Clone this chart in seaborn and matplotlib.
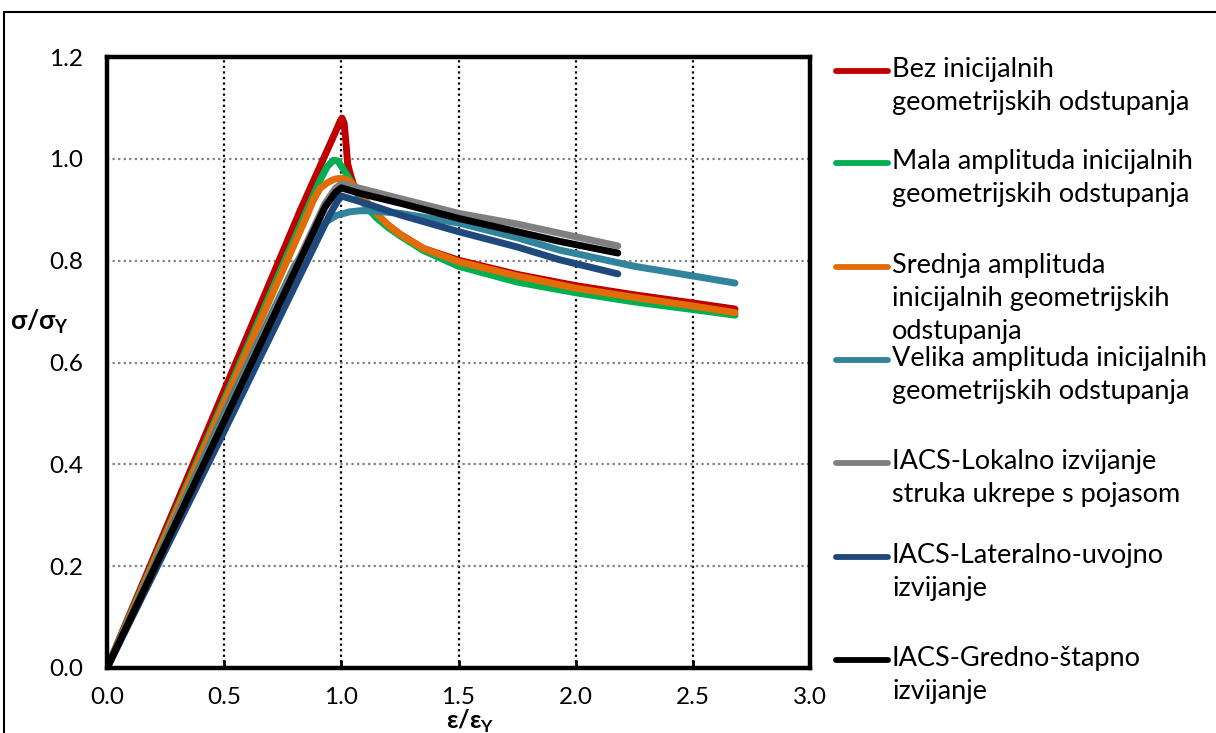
import numpy as np
import pandas as pd
import matplotlib
matplotlib.use("Agg")
import matplotlib.pyplot as plt
from matplotlib.lines import Line2D
from matplotlib.patches import Rectangle
import seaborn as sns

# ---------------- data ----------------
series_names = [
    "Bez inicijalnih\ngeometrijskih odstupanja",
    "Mala amplituda inicijalnih\ngeometrijskih odstupanja",
    "Srednja amplituda\ninicijalnih geometrijskih\nodstupanja",
    "Velika amplituda inicijalnih\ngeometrijskih odstupanja",
    "IACS-Lokalno izvijanje\nstruka ukrepe s pojasom",
    "IACS-Lateralno-uvojno\nizvijanje",
    "IACS-Gredno-štapno\nizvijanje",
]

bez_x = [0, 0.5, 0.824, 0.98, 0.995, 1.003, 1.012, 1.02, 1.027, 1.037, 1.05, 1.08, 1.12, 1.165, 1.25, 1.35, 1.5, 1.75, 2.0, 2.25, 2.5, 2.68]
bez_y = [0, 0.545, 0.898, 1.058, 1.074, 1.08, 1.07, 1.03, 0.99, 0.972, 0.952, 0.927, 0.903, 0.882, 0.852, 0.824, 0.801, 0.773, 0.751, 0.733, 0.717, 0.705]

mala_x = [0, 0.5, 0.866, 0.909, 0.94, 0.966, 0.985, 1.005, 1.037, 1.07, 1.108, 1.15, 1.2, 1.25, 1.35, 1.5, 1.75, 2.0, 2.25, 2.5, 2.68]
mala_y = [0, 0.527, 0.913, 0.958, 0.985, 0.997, 0.996, 0.982, 0.959, 0.93, 0.905, 0.884, 0.865, 0.849, 0.82, 0.789, 0.758, 0.737, 0.719, 0.704, 0.693]

srednja_x = [0, 0.5, 0.852, 0.88, 0.909, 0.94, 0.97, 1.0, 1.03, 1.06, 1.1, 1.15, 1.2, 1.25, 1.35, 1.5, 1.75, 2.0, 2.25, 2.5, 2.68]
srednja_y = [0, 0.52, 0.887, 0.918, 0.942, 0.953, 0.96, 0.962, 0.958, 0.945, 0.92, 0.893, 0.87, 0.852, 0.824, 0.798, 0.77, 0.746, 0.728, 0.711, 0.698]

velika_x = [0, 0.5, 0.8, 0.88, 0.937, 0.98, 1.037, 1.08, 1.12, 1.25, 1.5, 1.75, 1.93, 2.25, 2.5, 2.68]
velika_y = [0, 0.5, 0.79, 0.845, 0.877, 0.889, 0.896, 0.898, 0.898, 0.893, 0.874, 0.845, 0.821, 0.789, 0.77, 0.756]

lokalno_x = [0, 0.5, 0.93, 0.975, 1.0, 1.08, 1.25, 1.5, 1.75, 1.93, 2.18]
lokalno_y = [0, 0.49, 0.912, 0.942, 0.951, 0.942, 0.922, 0.893, 0.872, 0.854, 0.829]

lateralno_x = [0, 0.5, 0.95, 0.985, 1.0, 1.08, 1.25, 1.5, 1.75, 1.93, 2.18]
lateralno_y = [0, 0.465, 0.89, 0.918, 0.927, 0.916, 0.89, 0.857, 0.827, 0.802, 0.774]

gredno_x = [0, 0.5, 0.93, 0.975, 1.0, 1.08, 1.25, 1.5, 1.75, 1.93, 2.18]
gredno_y = [0, 0.485, 0.905, 0.934, 0.943, 0.932, 0.913, 0.883, 0.857, 0.838, 0.815]

x_ticks = [0.0, 0.5, 1.0, 1.5, 2.0, 2.5, 3.0]
y_ticks = [0.0, 0.2, 0.4, 0.6, 0.8, 1.0, 1.2]

colors = ["#C00000", "#00B050", "#E36C09", "#31849B", "#808080", "#1F497D", "#000000"]

all_x = [bez_x, mala_x, srednja_x, velika_x, lokalno_x, lateralno_x, gredno_x]
all_y = [bez_y, mala_y, srednja_y, velika_y, lokalno_y, lateralno_y, gredno_y]

frames = []
for name, xs, ys in zip(series_names, all_x, all_y):
    frames.append(pd.DataFrame({"eps": xs, "sig": ys, "serija": name}))
df = pd.concat(frames, ignore_index=True)

# ---------------- style ----------------
sns.set_theme(style="white")
plt.rcParams["font.family"] = ["Lato", "DejaVu Sans"]
plt.rcParams["mathtext.fontset"] = "custom"
plt.rcParams["mathtext.rm"] = "Lato"
plt.rcParams["mathtext.bf"] = "Lato:bold"

fig = plt.figure(figsize=(12.16, 7.33), dpi=100)
ax = fig.add_axes([107 / 1216, 65 / 733, (810 - 107) / 1216, (668 - 57) / 733])

for name, col in zip(series_names, colors):
    sub = df[df["serija"] == name]
    sns.lineplot(data=sub, x="eps", y="sig", sort=False, estimator=None,
                 color=col, lw=5.0, ax=ax, legend=False,
                 solid_capstyle="round", solid_joinstyle="round")

ax.set_xlim(0, 3.0)
ax.set_ylim(0, 1.2)
ax.set_xticks(x_ticks)
ax.set_yticks(y_ticks)
ax.set_xticklabels([f"{v:.1f}" for v in x_ticks])
ax.set_yticklabels([f"{v:.1f}" for v in y_ticks])
ax.tick_params(axis="x", direction="in", length=6, width=2, color="black",
               labelsize=17.5, pad=14, bottom=True)
ax.tick_params(axis="y", length=0, labelsize=17.5, pad=17)
for lab in ax.get_xticklabels() + ax.get_yticklabels():
    lab.set_color("black")

ax.xaxis.grid(True, color="black", linestyle=(0, (1, 1.5)), lw=1.6)
ax.yaxis.grid(True, color="#808080", linestyle=(0, (1, 1.5)), lw=1.6)
ax.set_axisbelow(True)
for s in ax.spines.values():
    s.set_visible(True)
    s.set_color("black")
    s.set_linewidth(3.2)

ax.set_xlabel("")
ax.set_ylabel("")
fig.text(470 / 1216, 1 - 721 / 733, "ε/ε$_{\\mathbf{Y}}$", ha="center", va="center",
         fontsize=18, fontweight="bold", color="black")
fig.text(40 / 1216, 1 - 322 / 733, "σ/σ$_{\\mathbf{Y}}$", ha="center", va="center",
         fontsize=19, fontweight="bold", color="black")

# ---------------- legend (manual, Excel-like) ----------------
row_y = [71, 163, 267, 360, 463, 557, 660]
for name, col, yy in zip(series_names, colors, row_y):
    yf = 1 - yy / 733
    fig.add_artist(Line2D([836 / 1216, 888 / 1216], [yf, yf], transform=fig.transFigure,
                          color=col, lw=4.2, solid_capstyle="round"))
    fig.text(892 / 1216, 1 - (yy - 14) / 733, name, ha="left", va="top",
             fontsize=19.5, color="black", linespacing=1.4)

# outer chart border
fig.add_artist(Rectangle((4 / 1216, -0.05), 1.2, (733 - 12) / 733 + 0.05,
                         transform=fig.transFigure, fill=False, edgecolor="black",
                         lw=1.5, clip_on=False))

fig.savefig("out.png", dpi=100)
